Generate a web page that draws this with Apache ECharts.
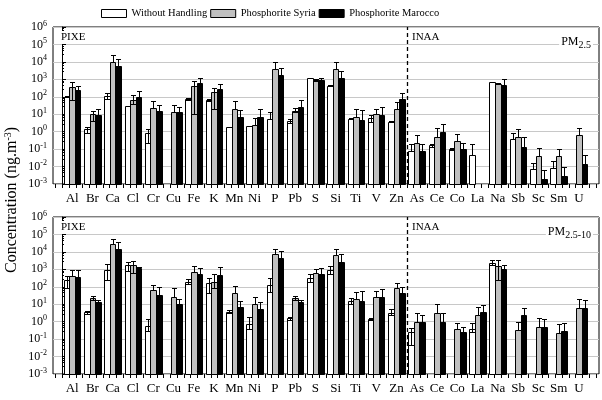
<!DOCTYPE html>
<html>
<head>
<meta charset="utf-8">
<script src="https://cdn.jsdelivr.net/npm/echarts@6/dist/echarts.min.js"></script>
<style>
  html, body { margin: 0; padding: 0; background: #fff; }
  #chart { width: 602px; height: 400px; }
</style>
</head>
<body>
<div id="chart"></div>
<script>
// elements (PIXE first, INAA after the dashed line)
const elements = ['Al', 'Br', 'Ca', 'Cl', 'Cr', 'Cu', 'Fe', 'K', 'Mn', 'Ni', 'P', 'Pb', 'S', 'Si', 'Ti', 'V', 'Zn',
  'As', 'Ce', 'Co', 'La', 'Na', 'Sb', 'Sc', 'Sm', 'U'];
const firstInaa = 'As';
const seriesNames = ['Without Handling', 'Phosphorite Syria', 'Phosphorite Marocco'];

// PM2.5 (ng/m3), value, upper error end, lower error end
const fineWithout = [100, 1.4, 110, 29, 0.8, null, 74, 65, 1.8, 2.1, 5.5, 4.2, 1120, 425, 5.3, 5.8, 3.7, 0.082, 0.17, 0.1, 0.047, 660, 0.36, 0.007, 0.0087, null];
const fineWithoutHi = [115, 1.95, 155, 31, 1.35, null, 82, 72, 1.9, 2.2, 13, 5, 1180, 450, 5.8, 8.9, 3.9, 0.2, 0.2, 0.11, 0.2, 700, 0.8, 0.017, 0.0195, null];
const fineWithoutLo = [null, 0.8, 78, null, 0.23, null, 66, 58, null, null, null, 3.3, null, null, null, 3.7, null, null, 0.14, 0.09, null, null, null, null, null, null];
const fineSyria = [370, 10, 10000, 65, 23, 12.7, 400, 190, 19, 2.3, 3800, 16, 900, 3800, 7.2, 9.8, 21, 0.21, 0.48, 0.31, null, 530, 0.52, 0.043, 0.041, 0.62];
const fineSyriaHi = [660, 16, 26000, 120, 54, 35, 800, 320, 59, 5.8, 9500, 22, 1050, 10000, 21, 19, 50, 0.62, 1.7, 0.74, null, 640, 1.4, 0.12, 0.1, 1.7];
const fineSyriaLo = [63, 4, null, 40, null, null, 11, 19, null, null, null, 13, 800, null, null, null, null, null, null, null, null, null, null, null, null, null];
const fineMarocco = [240, 9, 5600, 100, 15, 13.8, 580, 275, 7.2, 7.2, 1700, 27, 860, 1230, 4.6, 8.6, 74, 0.08, 1.0, 0.1, null, 465, 0.14, 0.002, 0.003, 0.0135];
const fineMaroccoHi = [430, 20, 14000, 220, 35, 27, 1120, 575, 17, 19, 4600, 65, 1170, 2950, 16.6, 24.5, 155, 0.2, 2.6, 0.23, null, 1070, 0.51, 0.0065, 0.01, 0.047];

// PM2.5-10
const coarseWithout = [240, 3.4, 900, 1700, 0.59, null, 195, 170, 3.7, 0.74, 125, 1.55, 340, 900, 16, 1.4, 3.3, 0.25, null, null, 0.36, 2450, null, null, null, null];
const coarseWithoutHi = [425, 4.2, 1900, 2700, 1.4, null, 275, 325, 4.5, 1.8, 300, 1.9, 575, 1600, 23, 1.6, 5.2, 0.46, null, null, 0.8, 3600, null, null, null, null];
const coarseWithoutLo = [90, 2.7, 240, 800, 0.3, null, 140, 42, 3, 0.4, 52, 1.2, 200, 520, 11, 1.2, 2.4, 0.047, null, null, 0.27, 1800, null, null, null, null];
const coarseSyria = [425, 23, 29000, 1740, 65, 27, 750, 200, 42, 11, 7400, 23, 580, 7000, 20, 25, 88, 0.9, 3.3, 0.38, 2.3, 1580, 0.33, 0.52, 0.21, 6.3];
const coarseSyriaHi = [900, 31, 57000, 3100, 135, 80, 1600, 525, 110, 25, 15500, 31, 1000, 15000, 51, 59, 170, 3, 11, 0.87, 7.2, 3300, 0.9, 1.55, 0.74, 21];
const coarseSyriaLo = [null, 17, null, 630, null, null, null, 85, null, null, null, 18, null, null, null, null, null, null, null, null, null, 240, null, null, null, null];
const coarseMarocco = [370, 14, 14000, 1120, 33, 10, 530, 500, 6.6, 5.3, 4200, 14, 530, 2700, 16, 25, 42, 1.0, 1.0, 0.25, 3.6, 1020, 2.4, 0.52, 0.29, 6.3];
const coarseMaroccoHi = [900, 18, 37000, 1400, 100, 21, 1230, 1380, 16, 14, 11000, 18, 1120, 7400, 56, 74, 91, 2.4, 3.2, 0.51, 9.3, 1660, 5.8, 1.4, 0.87, 17];

const FONT = 'Liberation Serif';
const Y_MIN = 1e-3, Y_MAX = 1e6;
const colors = ['#ffffff', '#c0c0c0', '#000000'];

// layout
const FRAME_L = 53, FRAME_R = 599, INNER_L = 62, INNER_R = 589;
const band = (INNER_R - INNER_L) / elements.length;
const frameMin = -(INNER_L - FRAME_L) / band;
const frameMax = elements.length + (FRAME_R - INNER_R) / band;
const GROUP_FRAC = 0.82;
const TICKS_PER_BAND = 3;

// bottom tick marks, in element units (three per element, one extra each side)
const xTickValues = [];
for (let t = -1; t <= elements.length * TICKS_PER_BAND + 1; t++) xTickValues.push([t / TICKS_PER_BAND]);

const panels = [
  { top: 27, height: 157, label: 'PM', sub: '2.5',
    sets: [[fineWithout, fineWithoutHi, fineWithoutLo], [fineSyria, fineSyriaHi, fineSyriaLo], [fineMarocco, fineMaroccoHi, null]] },
  { top: 217, height: 157, label: 'PM', sub: '2.5-10',
    sets: [[coarseWithout, coarseWithoutHi, coarseWithoutLo], [coarseSyria, coarseSyriaHi, coarseSyriaLo], [coarseMarocco, coarseMaroccoHi, null]] }
];

const num = (v) => (typeof v === 'number' && v > 0);

// bar + error bar drawn through the axes
function barRenderer(k) {
  return function (params, api) {
    const i = api.value(0), v = api.value(1), hi = api.value(2), lo = api.value(3);
    const bandW = api.size([1, 0])[0];
    const bw = bandW * GROUP_FRAC / 3;
    const c = api.coord([i, v]);
    const base = Math.round(api.coord([i, Y_MIN])[1]);
    const x0 = Math.round(c[0] + (k - 1.5) * bw);
    const x1 = Math.round(c[0] + (k - 0.5) * bw);
    const top = Math.round(c[1]);
    const children = [{
      type: 'rect',
      shape: { x: x0 + 0.5, y: top + 0.5, width: x1 - x0, height: base - top },
      style: { fill: colors[k], stroke: '#000', lineWidth: 1 }
    }];
    const ex = Math.round((x0 + x1) / 2) + 0.5;
    const cap = 2.5;
    if (hi > 0) {
      const hy = Math.round(api.coord([i, hi])[1]) + 0.5;
      const ly = lo > 0 ? Math.round(api.coord([i, lo])[1]) + 0.5 : top + 0.5;
      children.push({ type: 'line', shape: { x1: ex, y1: ly, x2: ex, y2: hy }, style: { stroke: '#000', lineWidth: 1 } });
      children.push({ type: 'line', shape: { x1: ex - cap, y1: hy, x2: ex + cap, y2: hy }, style: { stroke: '#000', lineWidth: 1 } });
      if (lo > 0) {
        children.push({ type: 'line', shape: { x1: ex - cap, y1: ly, x2: ex + cap, y2: ly }, style: { stroke: '#000', lineWidth: 1 } });
      }
    }
    return { type: 'group', children: children };
  };
}

function dividerRenderer(params, api) {
  const xv = api.value(0);
  const x = Math.round(api.coord([xv, Y_MIN])[0]) + 0.5;
  return {
    type: 'line',
    shape: { x1: x, y1: api.coord([xv, Y_MIN])[1], x2: x, y2: api.coord([xv, Y_MAX])[1] },
    style: { stroke: '#000', lineWidth: 1.3, lineDash: [4, 3] }
  };
}

function tickRenderer(params, api) {
  const p = api.coord([api.value(0), Y_MIN]);
  const x = Math.round(p[0]) + 0.5;
  const y = Math.round(p[1]);
  return { type: 'line', shape: { x1: x, y1: y, x2: x, y2: y + 4 }, style: { stroke: '#000', lineWidth: 1 } };
}

const grids = [], xAxes = [], yAxes = [], series = [], graphics = [];

panels.forEach((p, pi) => {
  const gf = pi * 2, gi = pi * 2 + 1;
  grids.push({ left: FRAME_L, width: FRAME_R - FRAME_L, top: p.top, height: p.height, show: true, borderColor: '#000', borderWidth: 1 });
  grids.push({ left: INNER_L, width: INNER_R - INNER_L, top: p.top, height: p.height });

  xAxes.push({ type: 'value', gridIndex: gf, min: frameMin, max: frameMax, show: false });
  xAxes.push({
    type: 'category', gridIndex: gi, data: elements, boundaryGap: true,
    axisLine: { show: false },
    axisTick: { show: false },
    axisLabel: { interval: 0, fontFamily: FONT, fontSize: 13, color: '#000', margin: 8 }
  });

  yAxes.push({
    type: 'log', gridIndex: gf, logBase: 10, min: Y_MIN, max: Y_MAX,
    axisLine: { show: true, lineStyle: { color: '#000' } },
    axisTick: { show: true, inside: true, length: 4, lineStyle: { color: '#000' } },
    minorTick: { show: true, splitNumber: 5, length: 2, lineStyle: { color: '#000' } },
    splitLine: { show: true, lineStyle: { color: '#c8c8c8' } },
    axisLabel: {
      showMinLabel: true, showMaxLabel: true, margin: 6,
      formatter: (val) => '{b|10}{s|' + Math.round(Math.log10(val)) + '}',
      rich: {
        b: { fontFamily: FONT, fontSize: 12, color: '#000' },
        s: { fontFamily: FONT, fontSize: 8, color: '#000', padding: [0, 0, 7, 0] }
      }
    }
  });
  yAxes.push({ type: 'log', gridIndex: gi, logBase: 10, min: Y_MIN, max: Y_MAX, show: false });

  p.sets.forEach((set, k) => {
    const data = [];
    set[0].forEach((v, i) => {
      if (!num(v)) return;
      data.push([i, v, num(set[1][i]) ? set[1][i] : '-', set[2] && num(set[2][i]) ? set[2][i] : '-']);
    });
    series.push({
      name: seriesNames[k], type: 'custom', xAxisIndex: gi, yAxisIndex: gi,
      itemStyle: { color: colors[k], borderColor: '#000', borderWidth: 1 },
      encode: { x: 0, y: 1 }, silent: true,
      renderItem: barRenderer(k), data: data
    });
  });

  series.push({
    type: 'custom', xAxisIndex: gf, yAxisIndex: gf, silent: true, z: 5, clip: false,
    encode: { x: 0 }, renderItem: dividerRenderer,
    data: [[elements.indexOf(firstInaa)]]
  });
  series.push({
    type: 'custom', xAxisIndex: gf, yAxisIndex: gf, silent: true, clip: false,
    encode: { x: 0 }, renderItem: tickRenderer, data: xTickValues
  });

  const labelStyle = { fontFamily: FONT, fontSize: 11, fill: '#000', backgroundColor: '#fff', padding: [1, 2] };
  graphics.push({ type: 'text', left: FRAME_L + 6, top: p.top + 4, z: 10, style: Object.assign({ text: 'PIXE' }, labelStyle) });
  graphics.push({ type: 'text', left: 410, top: p.top + 4, z: 10, style: Object.assign({ text: 'INAA' }, labelStyle) });
  graphics.push({
    type: 'text', right: 602 - FRAME_R + 6, top: p.top + 5, z: 10,
    style: {
      text: '{a|' + p.label + '}{s|' + p.sub + '}', backgroundColor: '#fff', padding: [1, 2],
      rich: {
        a: { fontFamily: FONT, fontSize: 12, fill: '#000' },
        s: { fontFamily: FONT, fontSize: 10, fill: '#000', padding: [7, 0, 0, 0] }
      }
    }
  });
});

graphics.push({
  type: 'text', x: 12, y: 200, rotation: Math.PI / 2,
  style: {
    text: '{a|Concentration (ng.m}{s|-3}{a|)}', align: 'center', verticalAlign: 'middle',
    rich: {
      a: { fontFamily: FONT, fontSize: 16, fill: '#000' },
      s: { fontFamily: FONT, fontSize: 10, fill: '#000', padding: [0, 0, 8, 0] }
    }
  }
});

const chart = echarts.init(document.getElementById('chart'));
chart.setOption({
  animation: false,
  backgroundColor: '#fff',
  legend: {
    top: 3, left: 96, icon: 'rect', itemWidth: 25, itemHeight: 8, itemGap: 3,
    textStyle: { fontFamily: FONT, fontSize: 10.5, color: '#000' },
    data: seriesNames.map((n, k) => ({ name: n, itemStyle: { color: colors[k], borderColor: '#000', borderWidth: 1 } }))
  },
  grid: grids,
  xAxis: xAxes,
  yAxis: yAxes,
  series: series,
  graphic: graphics
});
window.addEventListener('resize', () => chart.resize());
</script>
</body>
</html>
